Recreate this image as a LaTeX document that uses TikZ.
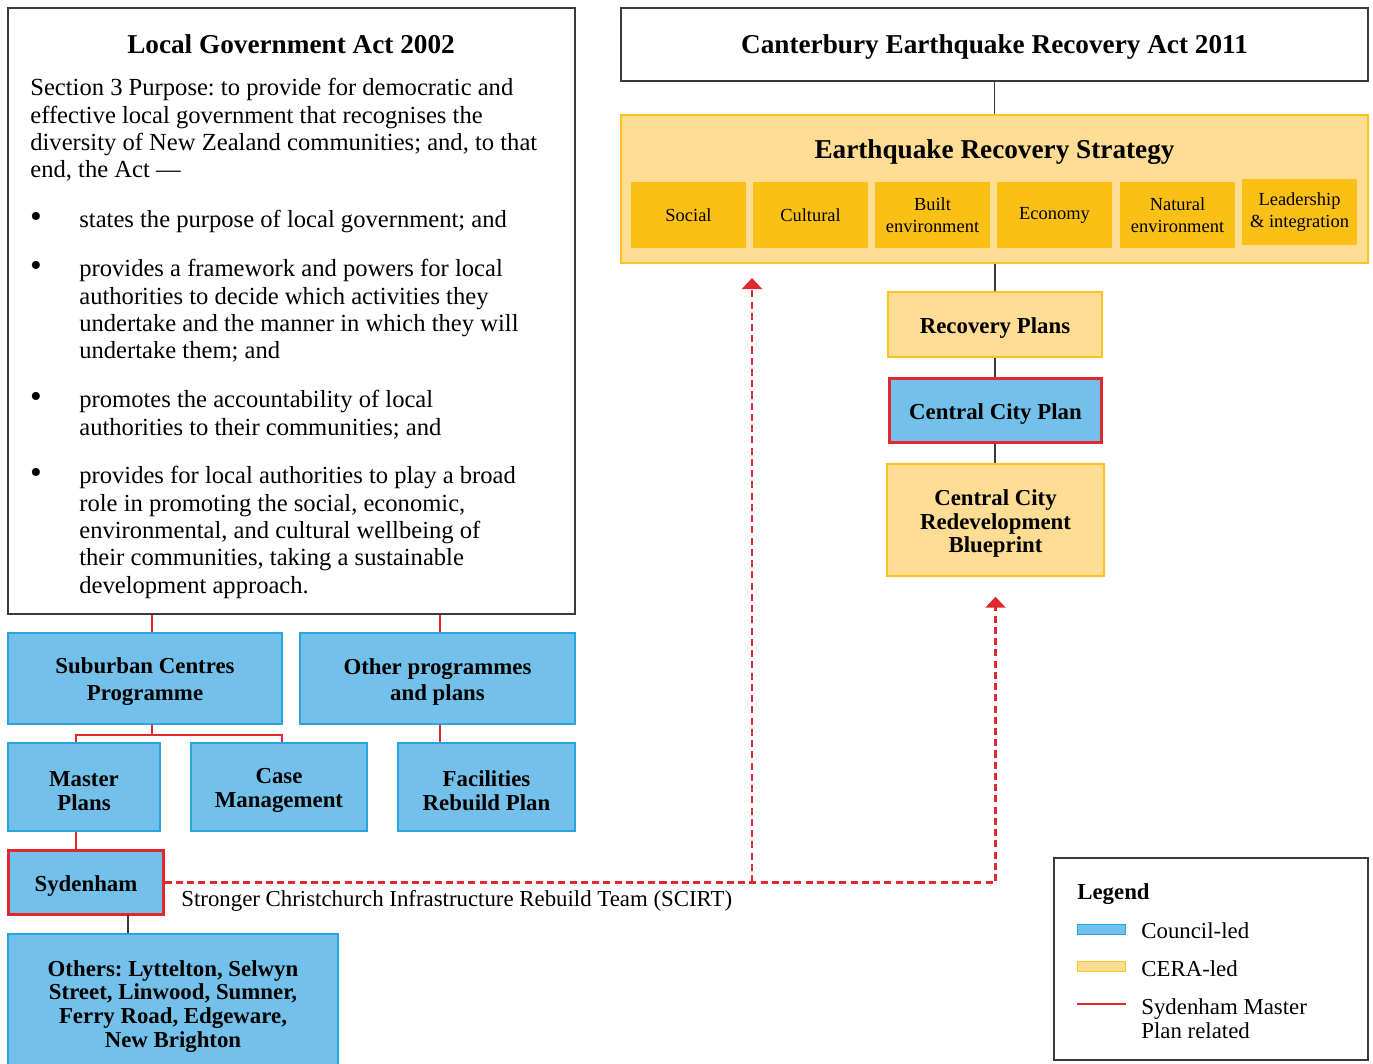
\documentclass[tikz,border=0pt]{standalone}
\usepackage{fontspec}
\setmainfont{Liberation Serif}
\frenchspacing
\usetikzlibrary{arrows.meta}
\definecolor{councilFill}{HTML}{73C1EA}
\definecolor{councilLine}{HTML}{2AA4DF}
\definecolor{ceraFill}{HTML}{FDDC93}
\definecolor{ceraLine}{HTML}{FCC31C}
\definecolor{themeFill}{HTML}{FBC016}
\definecolor{sydRed}{HTML}{E1272F}
\definecolor{linkGrey}{HTML}{3A3A3A}
% taller first line, so box labels sit a little lower
\newcommand\tallstrut{\rule{0pt}{1em}}

\tikzset{
  lowered/.style={execute at begin node={\rule{0pt}{#1}}},
  lowered/.default=1em,
  actbox/.style={draw=linkGrey, line width=0.8pt, fill=white, inner sep=0pt},
  titletext/.style={font=\fontsize{15.5}{18}\selectfont\bfseries, lowered=0.85em},
  bodytext/.style={font=\fontsize{14}{15.6}\selectfont, align=left, inner sep=0pt},
  bullettext/.style={font=\fontsize{19}{19}\selectfont, inner sep=0pt},
  councilbox/.style={draw=councilLine, fill=councilFill, line width=0.8pt, align=center, inner sep=0pt,
    font=\fontsize{13}{13.6}\selectfont\bfseries},
  cerabox/.style={draw=ceraLine, fill=ceraFill, line width=0.8pt, align=center, inner sep=0pt,
    font=\fontsize{13}{13.6}\selectfont\bfseries},
  themebox/.style={fill=themeFill, align=center, inner sep=0pt, minimum width=2.3cm, minimum height=1.32cm,
    font=\fontsize{10.5}{12.5}\selectfont},
  keyswatch/.style={line width=0.8pt, inner sep=0pt, minimum width=0.96cm, minimum height=0.2cm},
  sydbox/.style={draw=sydRed, line width=1.7pt},
  redlink/.style={draw=sydRed, line width=1.1pt},
  greylink/.style={draw=linkGrey, line width=0.85pt},
  scirt/.style={draw=sydRed, line width=1.25pt, dash pattern=on 4pt off 2.4pt,
    -{Triangle[width=0.4cm, length=0.22cm]}},
  keytext/.style={font=\fontsize{13}{13.6}\selectfont, align=left, inner sep=0pt, anchor=west},
}

\begin{document}
\begin{tikzpicture}[x=0.02cm, y=-0.02cm]
  \useasboundingbox (0,0) rectangle (1373,1063);

  % Local Government Act
  \node[actbox, minimum width=11.34cm, minimum height=12.12cm] (lga) at (291.5,311) {};
  \node[titletext] (lgaTitle) at (291,42) {Local Government Act 2002};
  \node[bodytext, anchor=north west] (lgaIntro) at (30,78) {Section 3 Purpose: to provide for democratic and\\
    effective local government that recognises the\\
    diversity of New Zealand communities; and, to that\\
    end, the Act ---};
  \node[bullettext] (dot1) at (36,220) {\textbullet};
  \node[bodytext, anchor=north west] (item1) at (79,210) {states the purpose of local government; and};
  \node[bullettext] (dot2) at (36,269) {\textbullet};
  \node[bodytext, anchor=north west] (item2) at (79,259) {provides a framework and powers for local\\
    authorities to decide which activities they\\
    undertake and the manner in which they will\\
    undertake them; and};
  \node[bullettext] (dot3) at (36,400) {\textbullet};
  \node[bodytext, anchor=north west] (item3) at (79,390) {promotes the accountability of local\\
    authorities to their communities; and};
  \node[bullettext] (dot4) at (36,476) {\textbullet};
  \node[bodytext, anchor=north west] (item4) at (79,466) {provides for local authorities to play a broad\\
    role in promoting the social, economic,\\
    environmental, and cultural wellbeing of\\
    their communities, taking a sustainable\\
    development approach.};

  % Canterbury Earthquake Recovery Act and strategy
  \node[actbox, titletext, minimum width=14.94cm, minimum height=1.46cm] (ceraAct) at (994.5,44.5) {Canterbury Earthquake Recovery Act 2011};
  \node[cerabox, minimum width=14.94cm, minimum height=2.96cm] (ers) at (994.5,189) {};
  \node[titletext] (ersTitle) at (994.5,150) {Earthquake Recovery Strategy};
  \node[themebox] (social) at (688.5,215) {Social};
  \node[themebox] (cultural) at (810.5,215) {Cultural};
  \node[themebox] (built) at (932.5,215) {Built\\environment};
  \node[themebox] (economy) at (1054.5,215) {Economy};
  \node[themebox] (natural) at (1177.5,215) {Natural\\environment};
  \node[themebox] (leadership) at (1299.5,212) {Leadership\\\& integration};

  \node[cerabox, lowered, minimum width=4.28cm, minimum height=1.3cm] (recovery) at (995,324.5) {Recovery Plans};
  \node[councilbox, sydbox, lowered, minimum width=4.26cm, minimum height=1.27cm] (ccp) at (995.5,410.5) {Central City Plan};
  \node[cerabox, minimum width=4.34cm, minimum height=2.24cm] (ccrb) at (995.5,520) {\tallstrut Central City\\Redevelopment\\Blueprint};

  \draw[greylink] (ceraAct.south) -- (ers.north);
  \draw[greylink] (ers.south -| recovery) -- (recovery.north);
  \draw[greylink] (recovery.south) -- (recovery.south |- ccp.north);
  \draw[greylink] (ccp.south -| recovery) -- (recovery |- ccrb.north);

  % council programmes
  \node[councilbox, font=\fontsize{13}{15.3}\selectfont\bfseries, minimum width=5.48cm, minimum height=1.82cm] (suburban) at (145,678.5) {\tallstrut Suburban Centres\\Programme};
  \node[councilbox, font=\fontsize{13}{15.3}\selectfont\bfseries, minimum width=5.5cm, minimum height=1.82cm] (otherprog) at (437.5,678.5) {\tallstrut Other programmes\\and plans};
  \node[councilbox, minimum width=3.04cm, minimum height=1.76cm] (master) at (84,787) {\tallstrut Master\\Plans};
  \node[councilbox, minimum width=3.52cm, minimum height=1.76cm] (casemgmt) at (279,787) {\tallstrut Case\\Management};
  \node[councilbox, minimum width=3.54cm, minimum height=1.76cm] (facilities) at (486.5,787) {\tallstrut Facilities\\Rebuild Plan};
  \node[councilbox, sydbox, lowered, minimum width=3.09cm, minimum height=1.27cm] (sydenham) at (86,882.5) {Sydenham};
  \node[councilbox, minimum width=6.6cm, minimum height=2.76cm] (others) at (173,1003) {\tallstrut Others: Lyttelton, Selwyn\\Street, Linwood, Sumner,\\Ferry Road, Edgeware,\\New Brighton};

  \draw[redlink] ([xshift=0.14cm]lga.south -| suburban) -- ([xshift=0.14cm]suburban.north);
  \draw[redlink] ([xshift=0.05cm]lga.south -| otherprog) -- ([xshift=0.05cm]otherprog.north);
  \draw[redlink] ([xshift=0.14cm]suburban.south) -- ++(0,10) coordinate (fork);
  \draw[redlink] (fork) -| ([xshift=-0.16cm]master.north);
  \draw[redlink] (fork) -| ([xshift=0.06cm]casemgmt.north);
  \draw[redlink] ([xshift=0.05cm]otherprog.south) -- ([xshift=0.05cm]otherprog.south |- facilities.north);
  \draw[redlink] ([xshift=-0.16cm]master.south) -- ([xshift=-0.16cm]master.south |- sydenham.north);
  \coordinate (sydlink) at (128,915);
  \draw[greylink] (sydlink) -- (sydlink |- others.north);

  % SCIRT links
  \coordinate (scirtfork) at (752,882);
  \coordinate (scirttip) at (752,278);
  \draw[scirt] (sydenham.east) -| ([yshift=-0.4cm]ccrb.south);
  \draw[scirt] (scirtfork) -- (scirttip);
  \node[keytext, font=\fontsize{13}{15}\selectfont] (scirtLabel) at (181,901) {Stronger Christchurch Infrastructure Rebuild Team (SCIRT)};

  % legend
  \node[actbox, minimum width=6.28cm, minimum height=4.04cm] (legend) at (1211,959) {};
  \node[keytext, font=\fontsize{13}{13.6}\selectfont\bfseries] (legendTitle) at (1077,894) {Legend};
  \node[keyswatch, draw=councilLine, fill=councilFill] (keyCouncil) at (1101.5,929.5) {};
  \node[keytext] (keyCouncilText) at (1141,931) {Council-led};
  \node[keyswatch, draw=ceraLine, fill=ceraFill] (keyCera) at (1101.5,966.5) {};
  \node[keytext] (keyCeraText) at (1141,969) {CERA-led};
  \coordinate (keyRedStart) at (1077,1004);
  \coordinate (keyRedEnd) at (1126,1004);
  \draw[redlink] (keyRedStart) -- (keyRedEnd);
  \node[keytext, anchor=north west] (keyRedText) at (1141,998) {Sydenham Master\\Plan related};
\end{tikzpicture}
\end{document}
